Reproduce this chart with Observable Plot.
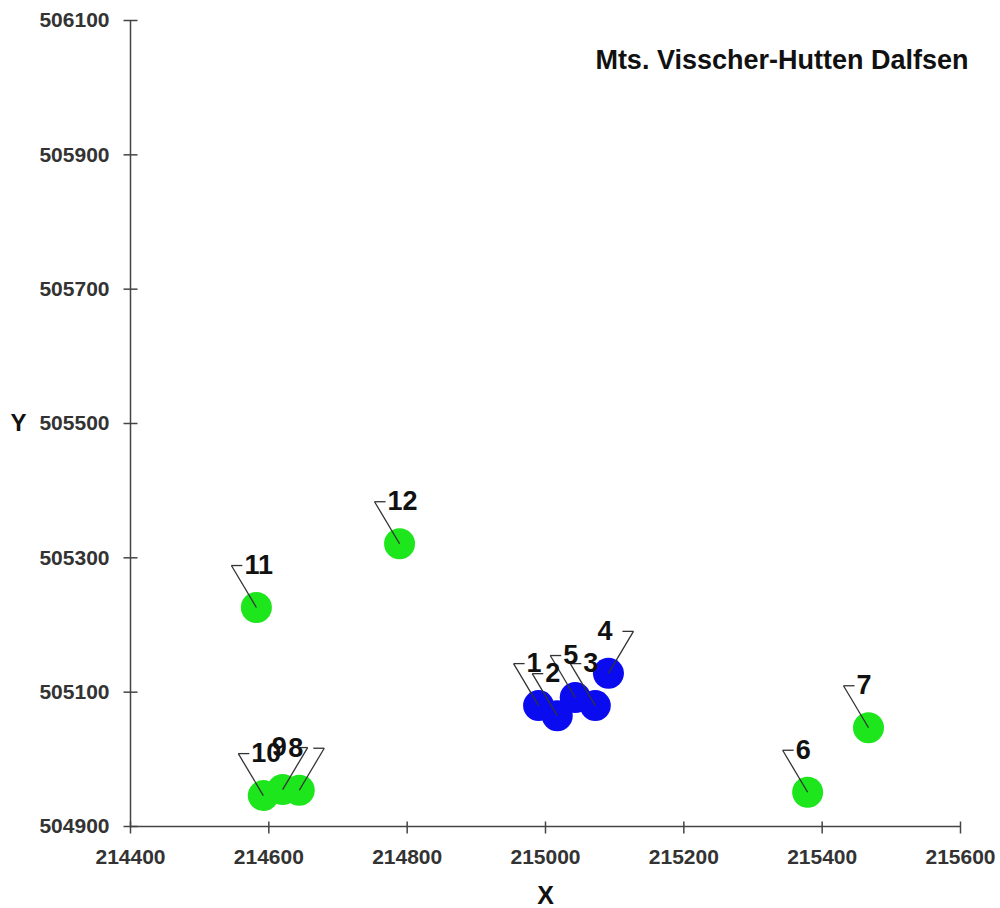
<!DOCTYPE html>
<html>
<head>
<meta charset="utf-8">
<script src="https://cdn.jsdelivr.net/npm/d3@7"></script>
<script src="https://cdn.jsdelivr.net/npm/@observablehq/plot@0.6"></script>
<style>
  html, body { margin: 0; padding: 0; background: #fff; }
  #chart { width: 1000px; height: 908px; }
</style>
</head>
<body>
<div id="chart"></div>
<script>
// ---- data ----
const ids = ["1","2","3","4","5","6","7","8","9","10","11","12"];
const xs = [214990, 215017, 215072, 215091, 215043, 215379, 215467, 214644, 214620, 214592, 214582, 214789];
const ys = [505080, 505065, 505080, 505128, 505092, 504951, 505047, 504954, 504955, 504946, 505226, 505321];
const groups = ["B","B","B","B","B","G","G","G","G","G","G","G"];
const labelSides = ["L","L","L","R","L","L","L","R","R","L","L","L"];
const xTicks = [214400, 214600, 214800, 215000, 215200, 215400, 215600];
const yTicks = [504900, 505100, 505300, 505500, 505700, 505900, 506100];
const title = "Mts. Visscher-Hutten Dalfsen";
const xLabel = "X";
const yLabel = "Y";

// ---- layout ----
const W = 1000, H = 908, mL = 130, mR = 40, mT = 20, mB = 82;
const xDomain = [214400, 215600], yDomain = [504900, 506100];
const uX = (xDomain[1] - xDomain[0]) / (W - mL - mR); // data units per px
const uY = (yDomain[1] - yDomain[0]) / (H - mT - mB);

const pts = ids.map((id, i) => {
  const side = labelSides[i] === "R" ? 1 : -1;
  const ex = xs[i] + side * 25 * uX;
  const ey = ys[i] + 42 * uY;
  return {
    id, x: xs[i], y: ys[i], group: groups[i], side,
    ex, ey,
    tx: ex - side * 11 * uX,
    lx: side < 0 ? ex + 13 * uX : ex - 21 * uX
  };
});

const vTick = { draw(ctx) { ctx.moveTo(0, -5); ctx.lineTo(0, 7); } };
const hTick = { draw(ctx) { ctx.moveTo(-7, 0); ctx.lineTo(7, 0); } };
const font = "'Liberation Sans', Arial, Helvetica, sans-serif";
const axisColor = "#444";

const chart = Plot.plot({
  width: W, height: H,
  marginLeft: mL, marginRight: mR, marginTop: mT, marginBottom: mB,
  style: { fontFamily: font, fontSize: "21px", fontWeight: "bold", background: "#fff" },
  x: { domain: xDomain, axis: null },
  y: { domain: yDomain, axis: null },
  color: { domain: ["B", "G"], range: ["#0b0bef", "#1de61d"] },
  marks: [
    Plot.axisX({ ticks: xTicks, tickSize: 0, tickPadding: 23, tickFormat: d => String(d), label: null, color: "#333", fontSize: 21 }),
    Plot.axisY({ ticks: yTicks, tickSize: 0, tickPadding: 21, tickFormat: d => String(d), label: null, color: "#333", fontSize: 21 }),
    Plot.ruleY([yDomain[0]], { stroke: axisColor, strokeWidth: 1.5 }),
    Plot.ruleX([xDomain[0]], { stroke: axisColor, strokeWidth: 1.5 }),
    Plot.dot(xTicks, { x: d => d, y: yDomain[0], symbol: vTick, stroke: axisColor, strokeWidth: 1.5, fill: "none" }),
    Plot.dot(yTicks, { x: xDomain[0], y: d => d, symbol: hTick, stroke: axisColor, strokeWidth: 1.5, fill: "none" }),
    Plot.dot(pts, { x: "x", y: "y", r: 15.5, fill: "group", stroke: "none" }),
    Plot.link(pts, { x1: "x", y1: "y", x2: "ex", y2: "ey", stroke: "#333", strokeWidth: 1.3 }),
    Plot.link(pts, { x1: "ex", y1: "ey", x2: "tx", y2: "ey", stroke: "#333", strokeWidth: 1.3 }),
    Plot.text(pts, { filter: d => d.side < 0, x: "lx", y: "ey", text: "id", textAnchor: "start", lineAnchor: "middle", fontSize: 27, fontWeight: "bold", fill: "#111" }),
    Plot.text(pts, { filter: d => d.side > 0, x: "lx", y: "ey", text: "id", textAnchor: "end", lineAnchor: "middle", fontSize: 27, fontWeight: "bold", fill: "#111" }),
    Plot.text([title], { text: d => d, frameAnchor: "top-right", dx: 8, dy: 29, lineAnchor: "top", textAnchor: "end", fontSize: 27, fontWeight: "bold", fill: "#111" }),
    Plot.text([yLabel], { text: d => d, frameAnchor: "left", dx: -112, textAnchor: "middle", lineAnchor: "middle", fontSize: 24, fontWeight: "bold", fill: "#111" }),
    Plot.text([xLabel], { text: d => d, frameAnchor: "bottom", dy: 69, textAnchor: "middle", lineAnchor: "middle", fontSize: 25, fontWeight: "bold", fill: "#111" })
  ]
});
document.getElementById("chart").appendChild(chart);
</script>
</body>
</html>
